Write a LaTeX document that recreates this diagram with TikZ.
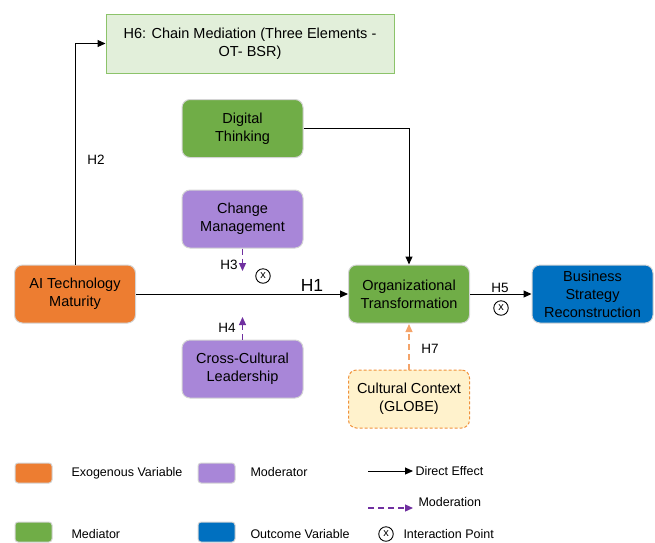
\documentclass[tikz,border=0pt]{standalone}
\usepackage{fontspec}
\setmainfont{Liberation Sans}
\usetikzlibrary{positioning,arrows.meta}
\definecolor{exoorange}{HTML}{ED7D31}
\definecolor{medgreen}{HTML}{70AD47}
\definecolor{modpurple}{HTML}{A886D8}
\definecolor{outblue}{HTML}{0070C0}
\definecolor{chainfill}{HTML}{E2EFDA}
\definecolor{chainline}{HTML}{8CC36A}
\definecolor{ctxfill}{HTML}{FFF2CC}
\definecolor{ctxline}{HTML}{F0913A}
\definecolor{modarrow}{HTML}{7030A0}
\definecolor{ctxarrow}{HTML}{F4A46A}
\definecolor{boxgray}{HTML}{D4D4D4}
\tikzset{
  >={Triangle[length=8pt,width=7pt]},
}

\begin{document}
\begin{tikzpicture}[
x=1pt, y=-1pt, line width=1pt,
var/.style={rounded corners=8pt, draw=boxgray, minimum width=121pt, minimum height=58pt,
  align=center, inner sep=1pt, font=\fontsize{14.5}{18}\selectfont},
swatch/.style={rounded corners=3pt, draw=boxgray, minimum width=37pt, minimum height=20pt, inner sep=0pt},
hlab/.style={font=\fontsize{13.5}{15}\selectfont},
leg/.style={anchor=west, font=\fontsize{12.5}{14}\selectfont, inner sep=0pt},
ipoint/.style={circle, draw, minimum size=14.5pt, inner sep=0pt, line width=0.9pt, font=\fontsize{11}{11}\selectfont},
moderate/.style={->, dash pattern=on 6pt off 4pt, draw=modarrow, color=modarrow, line width=1.2pt},
]
\useasboundingbox (0,0) rectangle (655,542);

% main variables
\node[draw=chainline, fill=chainfill, minimum width=288pt, minimum height=59pt, align=center,
  font=\fontsize{14.5}{18}\selectfont] (h6) at (250,43.5) {H6: Chain Mediation (Three Elements -\\OT- BSR)};
\node[var, fill=medgreen] (dt) at (242.5,128.5) {Digital\\Thinking};
\node[var, fill=modpurple] (cm) at (242.5,219) {Change\\Management};
\node[var, fill=exoorange] (ai) at (75,294) {AI Technology\\Maturity};
\node[var, fill=modpurple] (cl) at (242.5,369) {Cross-Cultural\\Leadership};
\node[var, fill=medgreen] (ot) at (409,294) {Organizational\\Transformation};
\node[var, fill=outblue] (bsr) at (592.5,294) {Business\\Strategy\\Reconstruction};
\node[var, fill=ctxfill, draw=ctxline, dash pattern=on 3pt off 2pt] (ctx) at (409,399) {Cultural Context\\(GLOBE)};

% paths
\coordinate (m3) at (242.5,271);
\coordinate (m4) at (242.5,317);
\coordinate (m7) at (409,324);
\draw[->] (ai.north) |- (h6.west);
\draw[->] (dt.east) -| (ot.north);
\draw[->] (ai.east) -- (ot.west);
\draw[->] (ot.east) -- (bsr.west);
\draw[moderate] (cm.south) -- (m3);
\draw[moderate] (cl.north) -- (m4);
\draw[moderate, draw=ctxarrow, color=ctxarrow] (ctx.north) -- (m7);

% labels
\node[hlab] (l2) at (96,160) {H2};
\node[hlab] (l3) at (229,265) {H3};
\node[ipoint] (x3) at (263,276) {x};
\node[font=\fontsize{17.5}{19}\selectfont] (l1) at (312,285) {H1};
\node[hlab] (l4) at (227,328) {H4};
\node[hlab] (l5) at (500,288) {H5};
\node[ipoint] (x5) at (501,308) {x};
\node[hlab] (l7) at (430,349) {H7};

% legend
\node[swatch, fill=exoorange] (s1) at (33.5,473) {};
\node[leg] (t1) at (71,473) {Exogenous Variable};
\node[swatch, fill=modpurple] (s2) at (216.5,473) {};
\node[leg] (t2) at (250,472) {Moderator};
\node[swatch, fill=medgreen] (s3) at (33.5,532) {};
\node[leg] (t3) at (71,534) {Mediator};
\node[swatch, fill=outblue] (s4) at (216.5,532) {};
\node[leg] (t4) at (250,534) {Outcome Variable};
\coordinate (d1) at (368,471);
\coordinate (d2) at (413,471);
\draw[->] (d1) -- (d2);
\node[leg] (t5) at (415,471) {Direct Effect};
\coordinate (e1) at (368,508);
\coordinate (e2) at (413,508);
\draw[moderate] (e1) -- (e2);
\node[leg] (t6) at (418,502) {Moderation};
\node[ipoint] (x0) at (386,534) {x};
\node[leg] (t7) at (403,534) {Interaction Point};
\end{tikzpicture}
\end{document}
